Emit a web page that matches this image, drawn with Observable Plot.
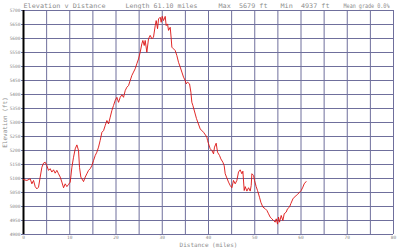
<!DOCTYPE html>
<html><head><meta charset="utf-8">
<script src="https://cdn.jsdelivr.net/npm/d3@7"></script>
<script src="https://cdn.jsdelivr.net/npm/@observablehq/plot@0.6"></script>
<style>html,body{margin:0;padding:0;background:#fff;}</style>
</head><body><div id="chart"></div>
<script>
const distance = [0, 0.73, 1.45, 1.81, 2.17, 2.53, 2.89, 3.25, 3.61, 3.97, 4.33, 4.69, 5.05, 5.41, 5.77, 6.13, 6.49, 6.85, 7.21, 7.57, 7.94, 8.30, 8.66, 9.02, 9.38, 9.74, 10.10, 10.46, 10.82, 11.18, 11.54, 11.90, 12.11, 12.40, 12.98, 13.34, 13.70, 14.06, 14.42, 14.78, 15.14, 15.50, 15.86, 16.22, 16.58, 16.95, 17.31, 17.66, 18.03, 18.38, 18.75, 19.11, 19.47, 19.83, 20.19, 20.55, 20.91, 21.27, 21.63, 21.99, 22.35, 22.71, 23.07, 23.43, 23.79, 24.15, 24.51, 24.87, 25.23, 25.59, 25.81, 26.10, 26.31, 26.67, 27.03, 27.39, 27.76, 28.11, 28.48, 28.69, 28.98, 29.20, 29.56, 29.77, 29.99, 30.28, 30.64, 30.85, 31.14, 31.36, 31.72, 31.94, 32.08, 32.44, 32.80, 33.16, 33.52, 33.88, 34.24, 34.60, 34.96, 35.18, 35.47, 35.90, 36.19, 36.40, 36.62, 37.40, 38.21, 38.93, 39.65, 39.79, 40.01, 40.37, 40.73, 41.09, 41.30, 41.66, 41.95, 42.39, 42.67, 43.11, 43.39, 43.61, 43.97, 44.33, 44.69, 45.05, 45.41, 45.77, 46.13, 46.49, 46.85, 47.21, 47.43, 47.72, 47.94, 48.30, 48.66, 49.02, 49.23, 49.38, 49.74, 49.95, 50.31, 50.60, 51.03, 51.32, 51.75, 52.26, 52.62, 52.98, 53.34, 53.70, 54.06, 54.42, 54.64, 54.93, 55.14, 55.36, 55.72, 56.08, 56.37, 56.80, 57.09, 57.52, 57.80, 58.24, 58.53, 58.96, 59.25, 59.68, 60.04, 60.40, 60.69, 61.10];
const elevation = [5096, 5093, 5099, 5081, 5093, 5071, 5063, 5069, 5105, 5140, 5155, 5158, 5146, 5129, 5135, 5123, 5131, 5119, 5129, 5117, 5105, 5087, 5067, 5081, 5071, 5079, 5087, 5140, 5176, 5206, 5220, 5200, 5140, 5105, 5089, 5105, 5117, 5129, 5135, 5146, 5164, 5182, 5194, 5212, 5236, 5265, 5271, 5289, 5307, 5295, 5319, 5343, 5361, 5379, 5390, 5372, 5390, 5399, 5390, 5414, 5426, 5432, 5450, 5468, 5480, 5492, 5510, 5527, 5551, 5581, 5593, 5575, 5593, 5551, 5599, 5611, 5599, 5605, 5646, 5664, 5635, 5670, 5676, 5658, 5679, 5664, 5679, 5646, 5652, 5629, 5640, 5599, 5569, 5563, 5557, 5539, 5515, 5498, 5480, 5462, 5450, 5438, 5444, 5438, 5408, 5372, 5361, 5314, 5277, 5265, 5248, 5236, 5224, 5206, 5200, 5188, 5212, 5226, 5194, 5182, 5170, 5158, 5146, 5117, 5102, 5087, 5075, 5067, 5093, 5081, 5093, 5123, 5131, 5117, 5126, 5057, 5071, 5055, 5067, 5055, 5075, 5117, 5111, 5093, 5071, 5057, 5033, 5015, 4998, 4992, 4986, 4974, 4962, 4956, 4950, 4944, 4956, 4937, 4962, 4944, 4968, 4950, 4974, 4980, 4992, 4998, 5010, 5027, 5033, 5039, 5043, 5051, 5057, 5069, 5081, 5089];
const yTicks = [4900, 4950, 5000, 5050, 5100, 5150, 5200, 5250, 5300, 5350, 5400, 5450, 5500, 5550, 5600, 5650, 5700];
const xGrid = [0, 5, 10, 15, 20, 25, 30, 35, 40, 45, 50, 55, 60, 65, 70, 75, 80];
const xTicks = [0, 10, 20, 30, 40, 50, 60, 70, 80];
const titleParts = ["Elevation v Distance", "Length 61.10 miles", "Max  5679 ft", "Min  4937 ft", "Mean grade 0.0%"];
const titleOffsets = [0, 102, 195, 257, 320];
const titleWidths = [82, 72, 49, 49, 46];
const yLabel = "Elevation (ft)";
const xLabel = "Distance (miles)";

const profile = distance.map((d, i) => ({d, e: elevation[i]}));
const grid = "#6f6f9c";
const txt = "#8c8c8c";
const mono = "'DejaVu Sans Mono', monospace";

const chart = Plot.plot({
  width: 400, height: 250,
  marginLeft: 23, marginRight: 7, marginTop: 10, marginBottom: 16,
  style: {fontFamily: mono, background: "#fff", overflow: "visible"},
  x: {domain: [0, 80]},
  y: {domain: [4900, 5700]},
  marks: [
    Plot.gridX(xGrid, {stroke: grid, strokeOpacity: 1, strokeWidth: 1}),
    Plot.gridY(yTicks, {stroke: grid, strokeOpacity: 1, strokeWidth: 1}),
    Plot.axisY({ticks: yTicks, tickSize: 2, tickPadding: 1, tickFormat: "d", fontSize: 4.5, fill: txt, stroke: grid, label: null}),
    Plot.axisX({ticks: xTicks, tickSize: 0, tickPadding: 1.5, tickFormat: "d", fontSize: 4.5, fill: txt, label: null}),
    Plot.ruleX([0], {stroke: "#000", strokeWidth: 2}),
    Plot.line(profile, {x: "d", y: "e", stroke: "#dd1111", strokeWidth: 0.9}),
    Plot.text([yLabel], {frameAnchor: "left", rotate: -90, dx: -18, fontSize: 6, fill: txt, textAnchor: "middle"}),
    Plot.text([xLabel], {frameAnchor: "bottom", dy: 12, fontSize: 6, fill: txt, textAnchor: "middle"}),
    ...titleParts.map((t, i) => Plot.text([t], {frameAnchor: "top-left", dx: titleOffsets[i], dy: -5, fontSize: 6.3, fill: txt, textAnchor: "start", lineAnchor: "middle", className: "title-part"}))
  ]
});
d3.select(chart).selectAll("text").style("white-space", "pre");
titleParts.forEach((t, i) => {
  d3.select(chart).selectAll("text").filter(function() { return this.textContent === t; })
    .attr("textLength", titleWidths[i]).attr("lengthAdjust", "spacingAndGlyphs");
});
document.getElementById("chart").appendChild(chart);
</script>
</body></html>
